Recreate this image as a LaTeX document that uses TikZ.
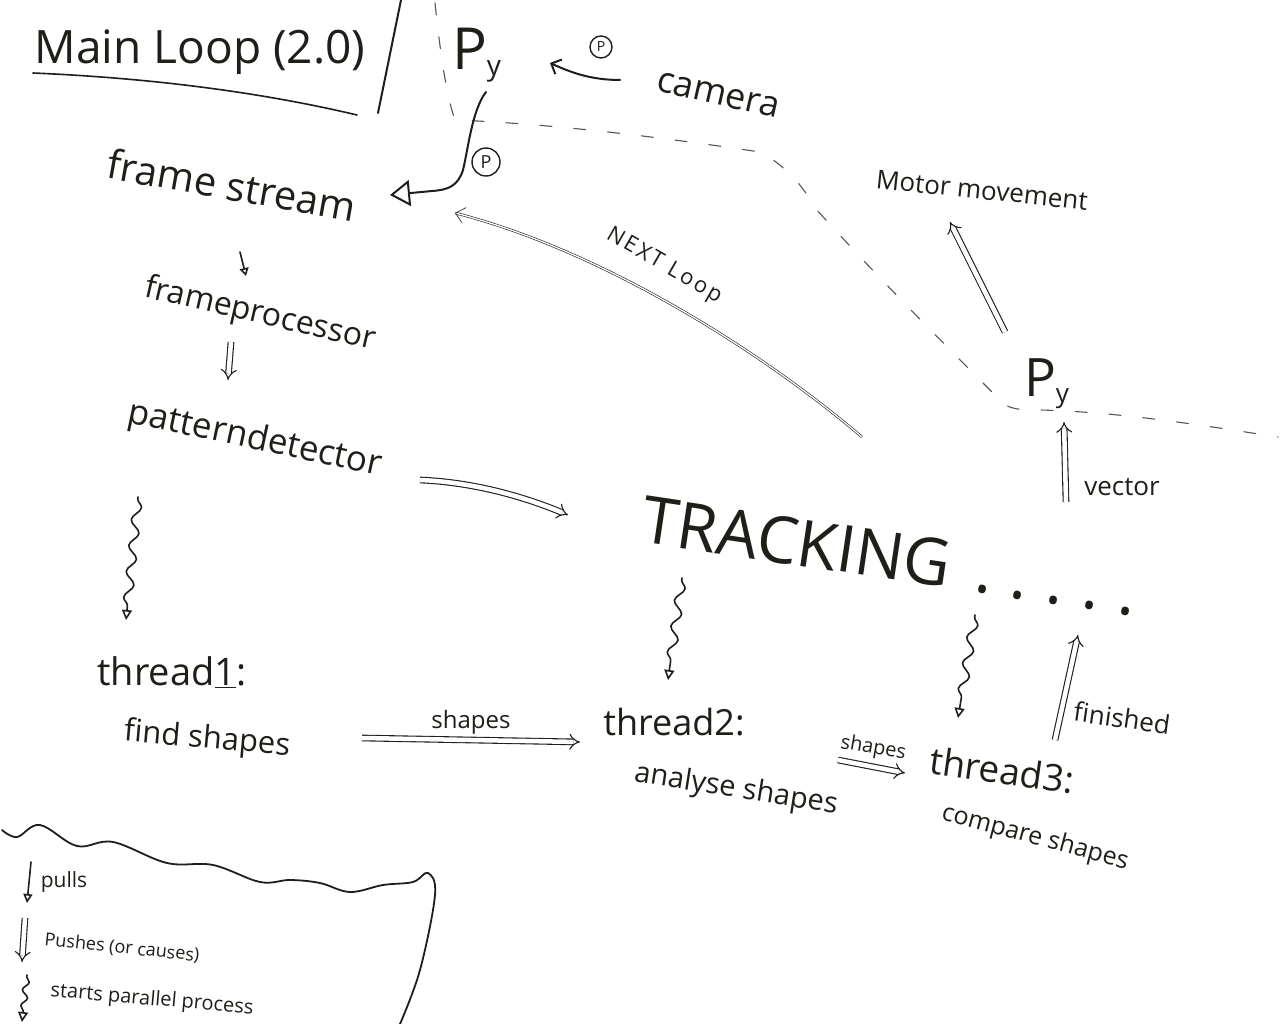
\documentclass[tikz,border=0pt]{standalone}
\usepackage{fontspec}
\setmainfont{Open Sans}
\usetikzlibrary{arrows.meta,decorations.pathmorphing}
\definecolor{inkc}{HTML}{1E1F19}
\newcommand\fsz[1]{\fontsize{#1}{#1}\selectfont}
\begin{document}
\begin{tikzpicture}[x=1pt,y=-1pt,
  ink/.style={draw=inkc, line width=1.6pt, line cap=round, line join=round},
  lbl/.style={text=inkc, inner sep=0pt, outer sep=0pt},
  pull/.style={ink, -{Triangle[open, length=9pt, width=9pt]}},
  push/.style={draw=inkc, line width=1.1pt, double=white, double distance=4.5pt, -{Implies}},
  spawn/.style={ink, decorate, decoration={snake, amplitude=4.5pt, segment length=26pt, pre length=2pt, post length=12pt}, -{Triangle[open, length=10pt, width=10pt]}},
  nextl/.style={draw=inkc, line width=0.6pt, double=white, double distance=1.3pt, -{Straight Barb[length=9pt, width=16pt]}},
  bound/.style={draw=inkc!75, line width=1.1pt, dash pattern=on 12pt off 22pt, line cap=round},
  circp/.style={circle, draw=inkc, line width=1.4pt, text=inkc, inner sep=1pt, font=\fsz{14}},
]
\fill[white] (0,0) rectangle (1280,1024);
\useasboundingbox (0,0) rectangle (1280,1024);

% title
\node[lbl, font=\fsz{46}] (title) at (200,52) {Main Loop (2.0)};
\draw[ink] (33,73) .. controls (150,78) and (260,92) .. (357,115);
\draw[ink, line width=2pt] (401,0) -- (378,113);

% dashed boundary
\draw[bound] (435,3) .. controls (440,50) and (446,95) .. (455,120)
  .. controls (560,124) and (680,140) .. (760,152)
  .. controls (790,168) and (805,190) .. (815,208)
  .. controls (880,280) and (950,350) .. (1005,405)
  .. controls (1015,410) and (1025,410) .. (1040,410)
  .. controls (1120,412) and (1200,425) .. (1278,437);

% top Py, camera
\node[lbl, font=\fsz{58}, anchor=base west] (pyTop) at (452,70) {P\raisebox{-6pt}{\fsz{28}y}};
\node[lbl, font=\fsz{36}, rotate=-13] (camera) at (718,95) {camera};
\node[circp, minimum size=22pt] (cpA) at (601,47) {P};
\node[circp, minimum size=28pt, font=\fsz{18}] (cpB) at (486,162) {P};
\draw[ink, line width=2pt, -{Straight Barb[length=8pt, width=16pt]}] ([shift={(-98,-15)}]camera.center) .. controls (590,80) and (570,72) .. ([shift={(98,-7)}]pyTop.base west);

% main column
\node[lbl, font=\fsz{40}, rotate=-10] (fstream) at (232,185) {frame stream};
\draw[ink, line width=2pt, -{Triangle[open, length=20pt, width=26pt]}] ([shift={(34,22)}]pyTop.base west) .. controls (472,110) and (468,150) .. (463,170) .. controls (458,186) and (448,190) .. (432,191) -- ([shift={(158,10)}]fstream.center);

\node[lbl, font=\fsz{32}, rotate=-13] (fproc) at (260,315) {frameprocessor};
\draw[pull, -{Triangle[open, length=8pt, width=9pt]}] ([shift={(8,67)}]fstream.center) -- ([shift={(-14,-39)}]fproc.center);

\node[lbl, font=\fsz{35}, rotate=-12] (pdet) at (255,440) {patterndetector};
\draw[push] ([shift={(-29,27)}]fproc.center) -- ([shift={(-27,-60)}]pdet.center);

\node[lbl, font=\fsz{65}, rotate=-8.5] (track) at (890,556) {TRACKING\kern26pt.\kern19pt.\kern19pt.\kern19pt.\kern19pt.};
\draw[push] ([shift={(165,40)}]pdet.center) .. controls (470,482) and (520,495) .. ([shift={(-322,-41)}]track.center);

% threads
\node[lbl, font=\fsz{38}] (t1) at (172,672) {thread\underline{1}:};
\node[lbl, font=\fsz{31}, rotate=-5] (t1sub) at (207,740) {find shapes};
\draw[spawn] ([shift={(-117,57)}]pdet.center) -- ([shift={(-46,-52)}]t1.center);

\node[lbl, font=\fsz{36}] (t2) at (674,722) {thread2:};
\node[lbl, font=\fsz{29}, rotate=-9] (t2sub) at (736,790) {analyse shapes};
\draw[push] ([shift={(155,-2)}]t1sub.center) -- node[lbl, font=\fsz{24}, above=6pt] (lsh1) {shapes} ([shift={(-94,20)}]t2.center);
\draw[spawn] ([shift={(-208,22)}]track.center) -- ([shift={(-6,-42)}]t2.center);

\node[lbl, font=\fsz{37}, rotate=-8] (t3) at (1002,770) {thread3:};
\node[lbl, font=\fsz{25}, rotate=-15] (t3sub) at (1035,838) {compare shapes};
\draw[spawn] ([shift={(85,59)}]track.center) -- ([shift={(-44,-52)}]t3.center);
\draw[push] ([shift={(102,-30)}]t2sub.center) -- node[lbl, font=\fsz{20}, above=8pt, rotate=-10] (lsh2) {shapes} ([shift={(-97,3)}]t3.center);

\draw[push] ([shift={(53,-30)}]t3.center) -- ([shift={(188,79)}]track.center);
\node[lbl, font=\fsz{26}, rotate=-8] (lfin) at (1122,718) {finished};

% right side
\node[lbl, font=\fsz{53}, anchor=base west] (pyR) at (1024,396) {P\raisebox{-6pt}{\fsz{26}y}};
\coordinate (vecS) at (1066,502);
\draw[push] (vecS) -- ([shift={(40,26)}]pyR.base west);
\node[lbl, font=\fsz{26}] (lvec) at (1122,487) {vector};
\node[lbl, font=\fsz{26}, rotate=-6] (motor) at (982,190) {Motor movement};
\draw[push] ([shift={(-19,-64)}]pyR.base west) -- ([shift={(-32,32)}]motor.center);

% next loop
\draw[nextl] ([shift={(-28,-119)}]track.center) .. controls (760,350) and (600,250) .. ([shift={(223,28)}]fstream.center);
\node[lbl, font=\fsz{22}\addfontfeatures{LetterSpace=12}, rotate=-30] (lnext) at (664,266) {NEXT Loop};

% legend
\draw[ink, line width=1.8pt] plot[smooth, tension=0.6] coordinates {(2,830) (17,837) (40,825) (77,846) (113,842) (167,863) (213,865) (260,882) (290,880) (320,883) (350,892) (383,885) (413,882) (428,873) (435,895) (420,970) (400,1024)};
\coordinate (lg1s) at (31,862); \coordinate (lg1e) at (27,903);
\draw[pull] (lg1s) -- (lg1e);
\node[lbl, font=\fsz{21}] (lgpull) at (64,882) {pulls};
\coordinate (lg2s) at (25,918); \coordinate (lg2e) at (22,962);
\draw[push] (lg2s) -- (lg2e);
\node[lbl, font=\fsz{18}, rotate=-6] (lgpush) at (122,948) {Pushes (or causes)};
\coordinate (lg3s) at (27,975); \coordinate (lg3e) at (22,1022);
\draw[spawn, decoration={snake, amplitude=3pt, segment length=16pt, post length=6pt}] (lg3s) -- (lg3e);
\node[lbl, font=\fsz{20}, rotate=-5] (lgspawn) at (152,1000) {starts parallel process};
\end{tikzpicture}
\end{document}
